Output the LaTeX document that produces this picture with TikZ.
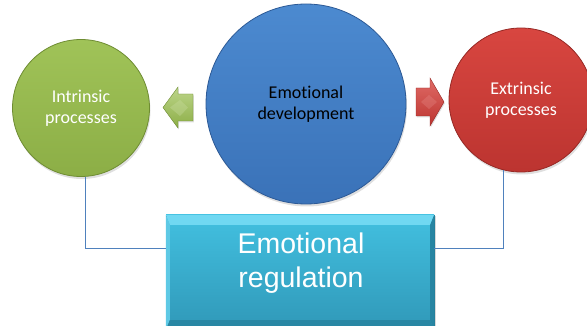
\documentclass[tikz,border=0pt]{standalone}
\usepackage{fontspec}
\setmainfont{Carlito}[Ligatures={NoCommon}]
\newfontfamily\regfont{Liberation Sans}
\usetikzlibrary{shadows,calc}
\definecolor{grnT}{RGB}{160,195,88}
\definecolor{grnB}{RGB}{140,174,70}
\definecolor{grnE}{RGB}{110,140,50}
\definecolor{bluT}{RGB}{76,138,208}
\definecolor{bluB}{RGB}{58,114,184}
\definecolor{bluE}{RGB}{45,90,150}
\definecolor{redT}{RGB}{216,70,64}
\definecolor{redB}{RGB}{188,52,48}
\definecolor{redE}{RGB}{150,40,36}
\definecolor{cyT}{RGB}{66,192,224}
\definecolor{cyB}{RGB}{48,152,184}
\definecolor{cyL}{RGB}{112,216,242}
\definecolor{cyD}{RGB}{36,128,156}
\definecolor{lineblue}{RGB}{79,129,189}
\tikzset{
  ball/.style={circle, inner sep=0pt, align=center,
    font=\fontsize{18}{21}\selectfont,
    drop shadow={opacity=0.25, shadow xshift=1pt, shadow yshift=-2.5pt}},
  conn/.style={draw=lineblue, line width=1pt},
  regbox/.style={rectangle, inner sep=0pt, minimum width=268pt, minimum height=115pt,
    top color=cyT, bottom color=cyB, draw=cyD, line width=0.4pt,
    drop shadow={opacity=0.3, shadow xshift=1.5pt, shadow yshift=-1.5pt}},
  regtext/.style={align=center, text=white, font=\regfont\fontsize{28.5}{34}\selectfont}
}
\begin{document}
\begin{tikzpicture}[x=1pt,y=-1pt]
\useasboundingbox (0,0) rectangle (587,326);
% circles
\node[ball, minimum size=137pt, top color=grnT, bottom color=grnB, draw=grnE, line width=0.8pt, text=white] (green) at (81,108) {Intrinsic\\processes};
\node[ball, minimum size=200pt, top color=bluT, bottom color=bluB, draw=bluE, line width=0.8pt, text=black] (blue) at (306,104) {Emotional\\development};
\node[ball, minimum size=144pt, top color=redT, bottom color=redB, draw=redE, line width=0.8pt, text=white] (red) at (521,100) {Extrinsic\\processes};
% left arrow (green)
\shade[top color=grnT!70!white, bottom color=grnB, draw=grnE, line width=0.4pt,
  drop shadow={opacity=0.25, shadow xshift=0.8pt, shadow yshift=-1.5pt}]
  (163,107.5) -- (178,87) -- (178,94) -- (193,94) -- (193,121) -- (178,121) -- (178,128) -- cycle;
\fill[grnT!55!white, opacity=0.35] (170,107.5) -- (180,100) -- (188,107.5) -- (180,116) -- cycle;
% right arrow (red)
\shade[top color=redT!80!white, bottom color=redB, draw=redE, line width=0.4pt,
  drop shadow={opacity=0.25, shadow xshift=0.8pt, shadow yshift=-1.5pt}]
  (444,102) -- (430,78) -- (430,88) -- (416,88) -- (416,116) -- (430,116) -- (430,126) -- cycle;
\fill[redT!60!white, opacity=0.3] (421,102) -- (429,95) -- (437,102) -- (429,109) -- cycle;
% box
\node[regbox] (reg) at (300,272.5) {};
\fill[cyL] (reg.north west) -- (reg.north east) -- ($(reg.north east)+(-4,10)$) -- ($(reg.north west)+(4,10)$) -- cycle;
\fill[cyT!85!white] (reg.north west) -- ($(reg.north west)+(4,10)$) -- ($(reg.south west)+(4,-10)$) -- (reg.south west) -- cycle;
\fill[cyD!80!cyB] (reg.north east) -- ($(reg.north east)+(-4,10)$) -- ($(reg.south east)+(-4,-10)$) -- (reg.south east) -- cycle;
\fill[cyD!70!cyB] (reg.south west) -- ($(reg.south west)+(4,-10)$) -- ($(reg.south east)+(-4,-10)$) -- (reg.south east) -- cycle;
\node[regtext] (regt) at (301,263) {Emotional\\regulation};
% connectors
\coordinate (lvl) at (0,249);
\draw[conn] (green.-86) |- (reg.west |- lvl);
\draw[conn] (red.-104) |- (reg.east |- lvl);
\end{tikzpicture}
\end{document}
